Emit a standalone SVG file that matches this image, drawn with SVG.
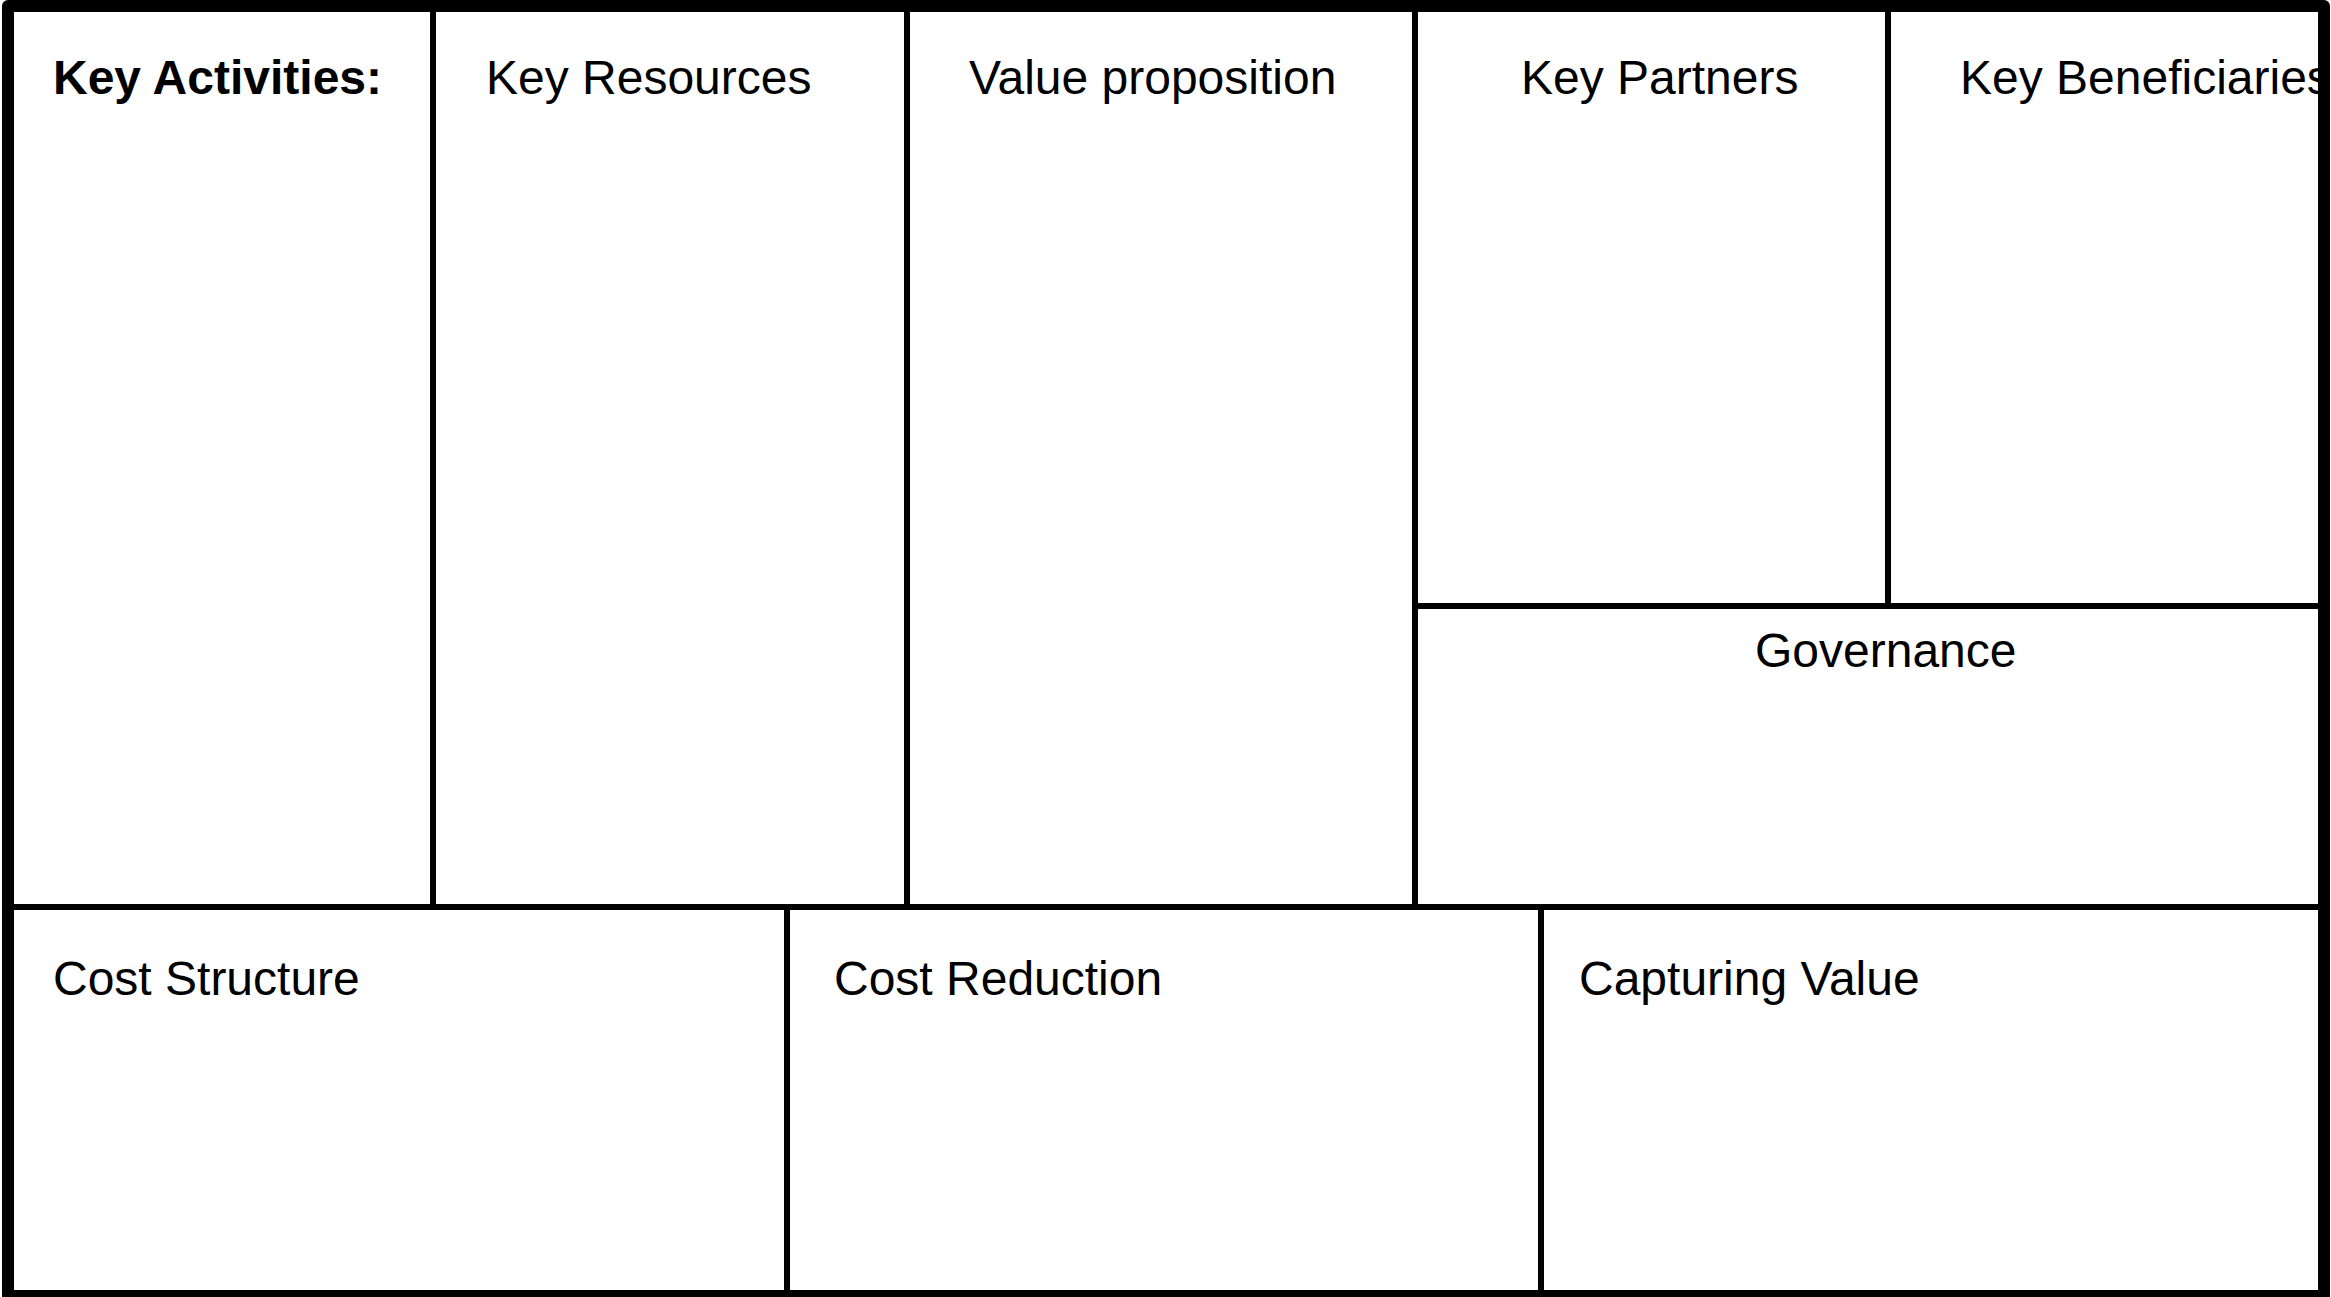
<svg xmlns="http://www.w3.org/2000/svg" width="2331" height="1297" viewBox="0 0 2331 1297">
  <style>
    .cell { fill: #ffffff; stroke: #000000; stroke-width: 6; }
    .lbl { font-family: "Liberation Sans", Arial, sans-serif; font-size: 48px; fill: #000000; }
    .bold { font-weight: bold; }
    .frame { fill: none; stroke: #000000; stroke-width: 12; stroke-linejoin: round; }
  </style>
  <rect x="0" y="0" width="2331" height="1297" fill="#ffffff"/>
  <g id="key-activities">
    <rect class="cell" x="8" y="6" width="425" height="901"/>
    <text class="lbl bold" x="53" y="94">Key Activities:</text>
  </g>
  <g id="key-resources">
    <rect class="cell" x="433" y="6" width="474" height="901"/>
    <text class="lbl" x="486" y="94">Key Resources</text>
  </g>
  <g id="value-proposition">
    <rect class="cell" x="907" y="6" width="508" height="901"/>
    <text class="lbl" x="969" y="94">Value proposition</text>
  </g>
  <g id="key-partners">
    <rect class="cell" x="1415" y="6" width="473" height="600"/>
    <text class="lbl" x="1521" y="94">Key Partners</text>
  </g>
  <g id="key-beneficiaries">
    <rect class="cell" x="1888" y="6" width="436" height="600"/>
    <text class="lbl" x="1960" y="94">Key Beneficiaries</text>
  </g>
  <g id="governance">
    <rect class="cell" x="1415" y="606" width="909" height="301"/>
    <text class="lbl" x="1755" y="667">Governance</text>
  </g>
  <g id="cost-structure">
    <rect class="cell" x="8" y="907" width="779" height="389"/>
    <text class="lbl" x="53" y="995">Cost Structure</text>
  </g>
  <g id="cost-reduction">
    <rect class="cell" x="787" y="907" width="754" height="389"/>
    <text class="lbl" x="834" y="995">Cost Reduction</text>
  </g>
  <g id="capturing-value">
    <rect class="cell" x="1541" y="907" width="783" height="389"/>
    <text class="lbl" x="1579" y="995">Capturing Value</text>
  </g>
  <g id="connectors"></g>
  <rect class="frame" x="8" y="6" width="2316" height="1290"/>
</svg>
